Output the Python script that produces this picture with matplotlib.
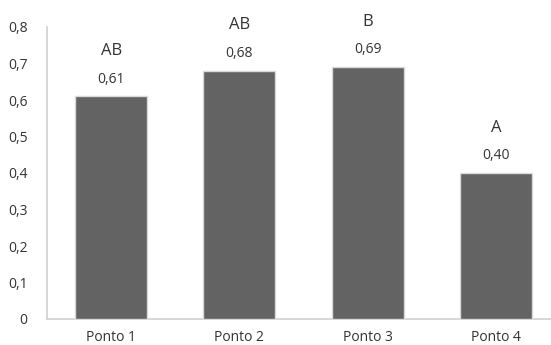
import matplotlib
matplotlib.use("Agg")
import matplotlib.pyplot as plt

categories = ["Ponto 1", "Ponto 2", "Ponto 3", "Ponto 4"]
values = [0.61, 0.68, 0.69, 0.40]
letters = ["AB", "AB", "B", "A"]
yticks = [0, 0.1, 0.2, 0.3, 0.4, 0.5, 0.6, 0.7, 0.8]

plt.rcParams["font.family"] = ["Open Sans", "DejaVu Sans"]
text_color = "#333333"

fig = plt.figure(figsize=(5.51, 3.45), dpi=100)
W, H = 551, 345
left, right = 47, 560
bottom, top = 319, 27
ax = fig.add_axes([left / W, 1 - bottom / H, (right - left) / W, (bottom - top) / H])

x = list(range(len(categories)))
ax.bar(x, values, width=0.56, color="#636363", edgecolor="#dadada", linewidth=1.0, zorder=3)
ax.set_xlim(-0.5, len(categories) - 0.5)
ax.set_ylim(0, 0.8)

for xi, v, lab in zip(x, values, letters):
    ax.annotate(f"{v:.2f}".replace(".", ","), (xi, v), xytext=(0, 7), textcoords="offset points",
                ha="center", va="bottom", fontsize=10, color=text_color)
    ax.annotate(lab, (xi, v), xytext=(0, 27), textcoords="offset points",
                ha="center", va="bottom", fontsize=12, color=text_color)

ax.set_yticks(yticks)
ax.set_yticklabels(["0" if t == 0 else f"{t:.1f}".replace(".", ",") for t in yticks])
ax.set_xticks(x)
ax.set_xticklabels(categories)
ax.tick_params(axis="both", length=0, colors=text_color, labelsize=10)
ax.tick_params(axis="y", pad=14)
ax.tick_params(axis="x", pad=8)

for s in ["top", "right"]:
    ax.spines[s].set_visible(False)
ax.spines["left"].set_color("#d0d0d0")
ax.spines["bottom"].set_color("#d0d0d0")
ax.spines["left"].set_linewidth(1.2)
ax.spines["bottom"].set_linewidth(1.2)

fig.savefig("out.png", dpi=100)
